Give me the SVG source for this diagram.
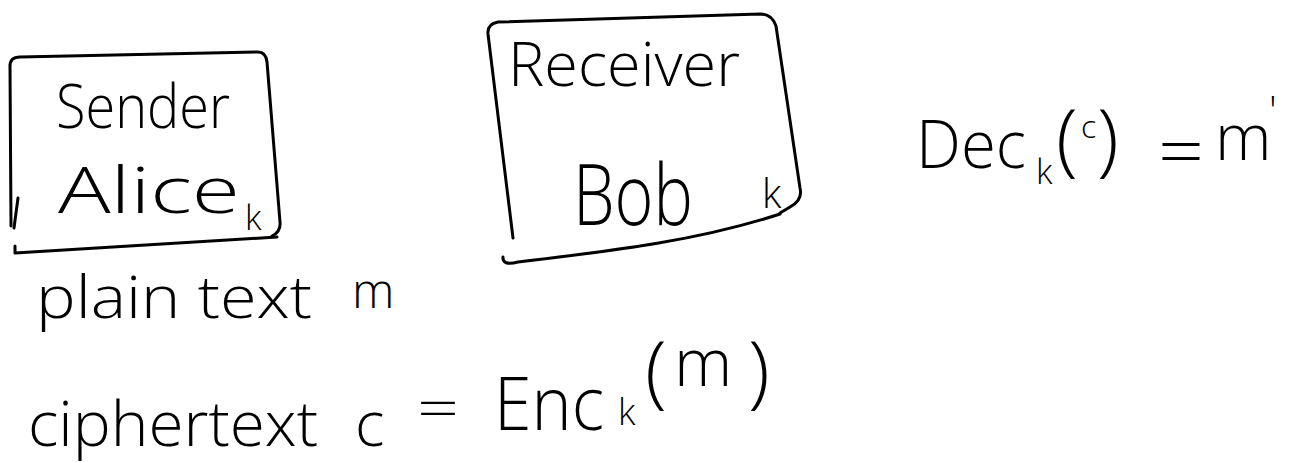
<svg xmlns="http://www.w3.org/2000/svg" width="1305" height="463" viewBox="0 0 1305 463">
<style>
.ln{fill:none;stroke:#000;stroke-width:3;stroke-linecap:round;stroke-linejoin:round}
.t{font-family:"Open Sans","Liberation Sans",sans-serif;font-weight:300;fill:#000}
</style>
<rect width="1305" height="463" fill="#fff"/>
<g id="sender">
<path class="ln" d="M11 226 L10 66 Q10 57 20 57 L258 52 Q266 52 267 62 L280 222 Q281 232 272 236"/>
<path class="ln" d="M18 198 L14 228"/>
<path class="ln" d="M15 246 L15 253 L277 237"/>
<text class="t" x="56" y="128" font-size="60" textLength="174" lengthAdjust="spacingAndGlyphs">Sender</text>
<text class="t" x="58" y="213" font-size="64" textLength="182" lengthAdjust="spacingAndGlyphs">Alice</text>
<text class="t" x="245" y="230" font-size="34">k</text>
</g>
<g id="receiver">
<path class="ln" d="M513 238 L488 34 Q487 24 498 22 L760 14 Q772 14 776 26 L800 188 Q803 200 790 207 L780 213"/>
<path class="ln" d="M780 214 C700 240 620 250 518 262 Q502 266 503 257"/>
<text class="t" x="508" y="86" font-size="60" textLength="232" lengthAdjust="spacingAndGlyphs">Receiver</text>
<text class="t" x="573" y="225" font-size="84" textLength="120" lengthAdjust="spacingAndGlyphs">Bob</text>
<text class="t" x="762" y="208" font-size="40">k</text>
</g>
<g id="decrypt">
<text class="t" x="916" y="168" font-size="66" textLength="110" lengthAdjust="spacingAndGlyphs">Dec</text>
<text class="t" x="1036" y="184" font-size="34">k</text>
<text class="t" x="1056" y="166" font-size="80">(</text>
<text class="t" x="1081" y="138" font-size="32">c</text>
<text class="t" x="1097" y="166" font-size="80">)</text>
<text class="t" x="1158" y="176" font-size="70" textLength="46" lengthAdjust="spacingAndGlyphs">=</text>
<text class="t" x="1215" y="160" font-size="64">m</text>
<text class="t" x="1269" y="125" font-size="40">'</text>
</g>
<g id="plaintext">
<text class="t" x="36" y="318" font-size="58" textLength="276" lengthAdjust="spacingAndGlyphs">plain text</text>
<text class="t" x="352" y="308" font-size="48">m</text>
</g>
<g id="ciphertext">
<text class="t" x="28" y="446" font-size="62" textLength="290" lengthAdjust="spacingAndGlyphs">ciphertext</text>
<text class="t" x="355" y="446" font-size="62">c</text>
<text class="t" x="417" y="428" font-size="56" textLength="42" lengthAdjust="spacingAndGlyphs">=</text>
<text class="t" x="494" y="430" font-size="74" textLength="110" lengthAdjust="spacingAndGlyphs">Enc</text>
<text class="t" x="618" y="425" font-size="36">k</text>
<text class="t" x="645" y="398" font-size="80">(</text>
<text class="t" x="674" y="386" font-size="66">m</text>
<text class="t" x="748" y="398" font-size="80">)</text>
</g>
<g id="connectors"></g>
</svg>
